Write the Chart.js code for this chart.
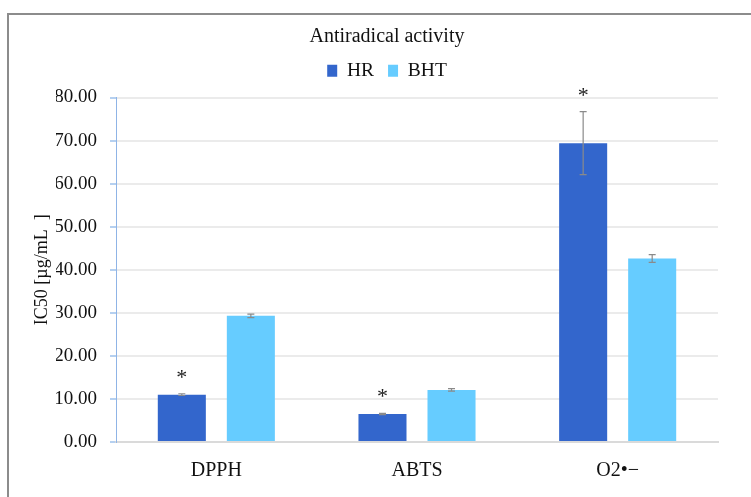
<!DOCTYPE html>
<html>
<head>
<meta charset="utf-8">
<script src="https://cdn.jsdelivr.net/npm/chart.js@4.4.0/dist/chart.umd.min.js"></script>
<style>
  html, body { margin: 0; padding: 0; background: #fff; overflow: hidden; }
  #frame { position: absolute; left: 7px; top: 13px; width: 800px; height: 600px; border: 2px solid #8c8c8c; box-sizing: border-box; }
  #wrap { position: absolute; left: 0; top: 0; width: 751px; height: 497px; }
  canvas { display: block; }
</style>
</head>
<body>
<div id="frame"></div>
<div id="wrap"><canvas id="chart" width="751" height="497"></canvas></div>
<script>
// data
const categories = ['DPPH', 'ABTS', 'O2•−'];
const hrValues = [11.0, 6.5, 69.4];
const hrErrors = [0.2, 0.15, 7.3];
const bhtValues = [29.3, 12.1, 42.6];
const bhtErrors = [0.4, 0.3, 0.9];
const hrStars = [true, true, true];
const yTicks = [0, 10, 20, 30, 40, 50, 60, 70, 80];
const yTitle = 'IC50 [µg/mL  ]';

const serif = "'Liberation Serif', 'DejaVu Serif', serif";

// error bars + significance stars
const errorBarPlugin = {
  id: 'errorBars',
  afterDatasetsDraw(chart) {
    const ctx = chart.ctx;
    const yScale = chart.scales.y;
    const errs = [hrErrors, bhtErrors];
    ctx.save();
    chart.data.datasets.forEach((ds, di) => {
      const meta = chart.getDatasetMeta(di);
      meta.data.forEach((bar, i) => {
        const v = ds.data[i];
        const e = errs[di][i];
        const yTop = yScale.getPixelForValue(v + e);
        const yBot = yScale.getPixelForValue(v - e);
        ctx.strokeStyle = '#8a8a8a';
        ctx.lineWidth = 1.2;
        ctx.beginPath();
        ctx.moveTo(bar.x, yTop); ctx.lineTo(bar.x, yBot);
        ctx.moveTo(bar.x - 3.5, yTop); ctx.lineTo(bar.x + 3.5, yTop);
        ctx.moveTo(bar.x - 3.5, yBot); ctx.lineTo(bar.x + 3.5, yBot);
        ctx.stroke();
        if (di === 0 && hrStars[i]) {
          ctx.fillStyle = '#222';
          ctx.font = '22px ' + serif;
          ctx.textAlign = 'center';
          ctx.textBaseline = 'alphabetic';
          ctx.fillText('*', bar.x, yTop - 10);
        }
      });
    });
    ctx.restore();
  }
};

// y axis title drawn beside the tick labels (kept out of the scale width so the title/legend centre like the original)
const yTitlePlugin = {
  id: 'yTitle',
  afterDraw(chart) {
    const ctx = chart.ctx;
    const a = chart.chartArea;
    ctx.save();
    ctx.translate(42, (a.top + a.bottom) / 2);
    ctx.rotate(-Math.PI / 2);
    ctx.font = '18px ' + serif;
    ctx.fillStyle = '#111';
    ctx.textAlign = 'center';
    ctx.textBaseline = 'middle';
    ctx.fillText(yTitle, 0, 0);
    ctx.restore();
  }
};

// a little more room under the legend
const legendGap = {
  id: 'legendGap',
  beforeLayout(chart) {
    const lg = chart.legend;
    if (lg && !lg._gapPatched) {
      const fit = lg.fit;
      lg.fit = function () { fit.call(this); this.height += 7; };
      lg._gapPatched = true;
    }
  }
};

const ctx = document.getElementById('chart').getContext('2d');
new Chart(ctx, {
  type: 'bar',
  data: {
    labels: categories,
    datasets: [
      { label: 'HR', data: hrValues, backgroundColor: '#3366cc', categoryPercentage: 0.688, barPercentage: 0.696 },
      { label: 'BHT', data: bhtValues, backgroundColor: '#66ccff', categoryPercentage: 0.688, barPercentage: 0.696 }
    ]
  },
  options: {
    responsive: false,
    animation: false,
    layout: { padding: { left: 56, right: 33, top: 25, bottom: 5 } },
    plugins: {
      tooltip: { enabled: false },
      title: {
        display: true,
        text: 'Antiradical activity',
        color: '#111',
        font: { family: serif, size: 20, weight: 'normal' },
        padding: { top: 0, bottom: -2 }
      },
      legend: {
        display: true,
        labels: {
          color: '#111',
          font: { family: serif, size: 19.5 },
          boxWidth: 10,
          boxHeight: 12,
          padding: 14
        }
      }
    },
    scales: {
      x: {
        grid: { display: false },
        border: { color: '#dadada', width: 2 },
        ticks: { color: '#111', font: { family: serif, size: 20 }, padding: 9 }
      },
      y: {
        min: 0,
        max: 80,
        afterBuildTicks(scale) { scale.ticks = yTicks.map(v => ({ value: v })); },
        afterFit(scale) { scale.width = 60; },
        grid: { color: '#ebebeb', lineWidth: 2, tickLength: 6, tickColor: '#b5d0f0' },
        border: { color: '#8fb4e6', width: 1 },
        ticks: {
          color: '#111',
          font: { family: serif, size: 19 },
          padding: 13,
          callback: v => v.toFixed(2)
        }
      }
    }
  },
  plugins: [errorBarPlugin, yTitlePlugin, legendGap]
});
</script>
</body>
</html>
